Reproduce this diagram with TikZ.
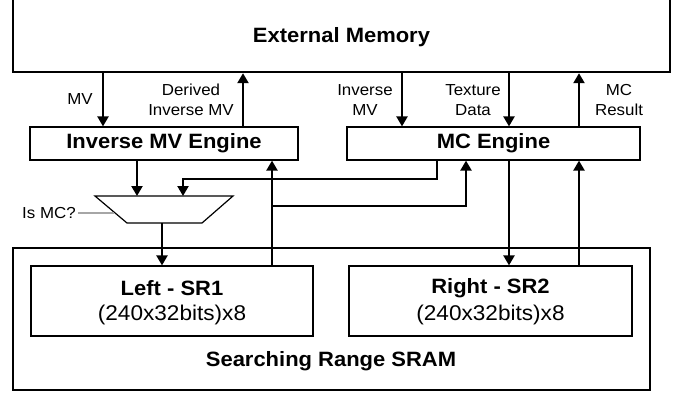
\documentclass[tikz,border=0pt]{standalone}
\usepackage{fontspec}
\setmainfont[FakeStretch=1.06]{Liberation Sans}
\usetikzlibrary{arrows.meta}
\tikzset{
  blk/.style={draw, line width=1.2bp, inner sep=0pt, font=\fontsize{20.8}{22}\selectfont\bfseries},
  arr/.style={line width=2.2bp, -{Triangle[length=10bp,width=11bp]}},
  lbl/.style={font=\fontsize{16}{19.5}\selectfont, align=center, inner sep=0pt},
  sub/.style={font=\fontsize{21.4}{22}\selectfont, inner sep=0pt},
  bld/.style={font=\fontsize{20.8}{22}\selectfont\bfseries, inner sep=0pt}
}
\begin{document}
\begin{tikzpicture}[x=1bp,y=-1bp]
\useasboundingbox (0,0) rectangle (679,392);
% External memory (open at top)
\node[inner sep=0pt, minimum width=657bp, minimum height=72bp, font=\fontsize{20.8}{22}\selectfont\bfseries] (ext) at (341.5,37) {External Memory};
\draw[line width=1.2bp] (13,-2) -- (13,72) -- (670,72) -- (670,-2);
% engines
\node[blk, minimum width=268bp, minimum height=33bp] (imv) at (164,143.5) {Inverse MV Engine};
\node[blk, minimum width=293bp, minimum height=33bp] (mce) at (493.5,143.5) {MC Engine};
% SRAM
\node[draw, line width=1.2bp, minimum width=637bp, minimum height=142bp, inner sep=0pt] (sram) at (331.5,319) {};
\node[bld] (sramlbl) at (331,361) {Searching Range SRAM};
\node[draw, line width=1.2bp, minimum width=282bp, minimum height=70bp, inner sep=0pt] (sr1) at (172,301) {};
\node[bld] (sr1a) at (172,288.5) {Left - SR1};
\node[sub] (sr1b) at (172,315) {(240x32bits)x8};
\node[draw, line width=1.2bp, minimum width=283bp, minimum height=70bp, inner sep=0pt] (sr2) at (490.5,301) {};
\node[bld] (sr2a) at (490.5,288.5) {Right - SR2};
\node[sub] (sr2b) at (490.5,315) {(240x32bits)x8};
% mux
\coordinate (mtl) at (95,196);
\coordinate (mtr) at (233,196);
\coordinate (mbr) at (202,223);
\coordinate (mbl) at (127,223);
\draw[line width=1.2bp] (mtl) -- (mtr) -- (mbr) -- (mbl) -- cycle;
\coordinate (mselin) at (113.5,213);
\node[lbl] (ismc) at (49,213) {Is MC?};
\draw[line width=1.2bp, gray!70] (ismc.east) ++(2,0) -- (mselin);
% labels of memory arrows
\node[lbl] (lmv) at (80,99) {MV};
\node[lbl] (ldim) at (191,100) {Derived\\Inverse MV};
\node[lbl] (limv) at (365,100) {Inverse\\MV};
\node[lbl] (ltex) at (473,100) {Texture\\Data};
\node[lbl] (lmcr) at (619,100) {MC\\Result};
% memory arrows
\draw[arr] (103,0 |- ext.south) -- (103,0 |- imv.north);
\draw[arr] (243,0 |- imv.north) -- (243,0 |- ext.south);
\draw[arr] (402,0 |- ext.south) -- (402,0 |- mce.north);
\draw[arr] (509,0 |- ext.south) -- (509,0 |- mce.north);
\draw[arr] (579,0 |- mce.north) -- (579,0 |- ext.south);
% middle connections
\draw[arr] (137,0 |- imv.south) -- (137,0 |- mtl);
\draw[arr] (437,0 |- mce.south) -- (437,179) -- (183,179) -- (183,0 |- mtl);
\draw[arr] (272,0 |- sr1.north) -- (272,0 |- imv.south);
\coordinate (br) at (272,206);
\draw[arr] (br) -- (466,206) -- (466,0 |- mce.south);
\draw[arr] (162,0 |- mbl) -- (162,0 |- sr1.north);
\draw[arr] (509,0 |- mce.south) -- (509,0 |- sr2.north);
\draw[arr] (579,0 |- sr2.north) -- (579,0 |- mce.south);
\end{tikzpicture}
\end{document}
